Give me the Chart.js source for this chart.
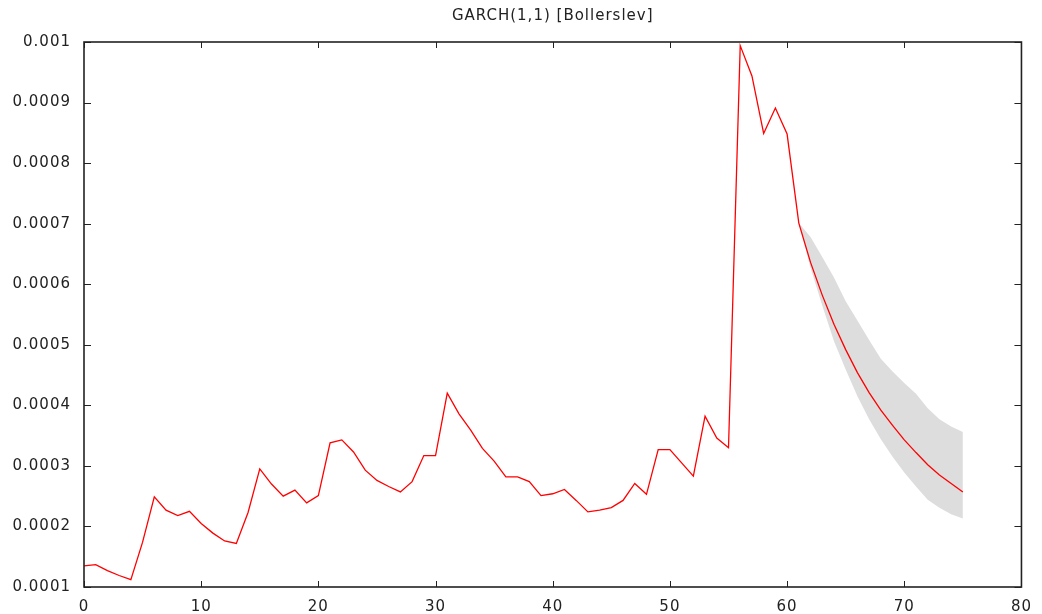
<!DOCTYPE html>
<html>
<head>
<meta charset="utf-8">
<script src="https://cdn.jsdelivr.net/npm/chart.js@4.4.0/dist/chart.umd.min.js"></script>
<style>
  html, body { margin: 0; padding: 0; background: #ffffff; }
  #wrap { width: 1042px; height: 614px; position: relative; }
</style>
</head>
<body>
<div id="wrap"><canvas id="c" width="1042" height="614"></canvas></div>
<script>
// ---- data ----
const chartTitle = 'GARCH(1,1) [Bollerslev]';
const xTicks = [0, 10, 20, 30, 40, 50, 60, 70, 80];
const yTicks = [0.0001, 0.0002, 0.0003, 0.0004, 0.0005, 0.0006, 0.0007, 0.0008, 0.0009, 0.001];
const yTickLabels = ['0.0001', '0.0002', '0.0003', '0.0004', '0.0005', '0.0006', '0.0007', '0.0008', '0.0009', '0.001'];

// conditional variance, t = 0..75 (61..75 is the forecast)
const variance = [
  0.000135, 0.000137, 0.000127, 0.000119, 0.000112, 0.000174, 0.000249, 0.000227, 0.000218, 0.000225,
  0.000205, 0.000189, 0.000176, 0.000172, 0.000223, 0.000295, 0.000270, 0.000250, 0.000260, 0.000239,
  0.000251, 0.000338, 0.000343, 0.000323, 0.000293, 0.000276, 0.000266, 0.000257, 0.000274, 0.000317,
  0.000317, 0.000420, 0.000386, 0.000359, 0.000329, 0.000308, 0.000282, 0.000282, 0.000274, 0.000251,
  0.000254, 0.000261, 0.000243, 0.000224, 0.000227, 0.000231, 0.000243, 0.000271, 0.000253, 0.000327,
  0.000327, 0.000305, 0.000283, 0.000382, 0.000346, 0.000330, 0.000994, 0.000944, 0.000849, 0.000891,
  0.000848, 0.000701, 0.000636, 0.000582, 0.000534, 0.000492, 0.000454, 0.000421, 0.000392, 0.000367,
  0.000343, 0.000322, 0.000302, 0.000285, 0.000271, 0.000257
];

// forecast interval
const bandSteps = [61, 62, 63, 64, 65, 66, 67, 68, 69, 70, 71, 72, 73, 74, 75];
const bandUpper = [0.000701, 0.000678, 0.000645, 0.000611, 0.000572, 0.000540, 0.000508, 0.000477,
                   0.000456, 0.000437, 0.000419, 0.000395, 0.000377, 0.000365, 0.000356];
const bandLower = [0.000701, 0.000627, 0.000565, 0.000506, 0.000459, 0.000415, 0.000377, 0.000344,
                   0.000315, 0.000289, 0.000266, 0.000244, 0.000231, 0.000220, 0.000213];

// ---- build ----
const linePts = variance.map((v, i) => ({ x: i, y: v }));
const upperPts = bandSteps.map((s, i) => ({ x: s, y: bandUpper[i] }));
const lowerPts = bandSteps.map((s, i) => ({ x: s, y: bandLower[i] }));

Chart.defaults.font.family = "'DejaVu Sans', Verdana, sans-serif";
Chart.defaults.font.size = 15;
Chart.defaults.color = '#222222';

const spacingPlugin = {
  id: 'spacing',
  beforeDraw(chart) { chart.ctx.letterSpacing = '1px'; }
};

const framePlugin = {
  id: 'frame',
  afterDraw(chart) {
    const ctx = chart.ctx;
    const a = chart.chartArea;
    const xs = chart.scales.x, ys = chart.scales.y;
    ctx.save();
    ctx.strokeStyle = '#222222';
    ctx.lineWidth = 1;
    ctx.beginPath();
    xTicks.forEach(t => {
      const px = Math.round(xs.getPixelForValue(t)) + 0.5;
      ctx.moveTo(px, a.bottom); ctx.lineTo(px, a.bottom - 6);
      ctx.moveTo(px, a.top); ctx.lineTo(px, a.top + 6);
    });
    yTicks.forEach(t => {
      const py = Math.round(ys.getPixelForValue(t)) + 0.5;
      ctx.moveTo(a.left, py); ctx.lineTo(a.left + 7, py);
      ctx.moveTo(a.right, py); ctx.lineTo(a.right - 7, py);
    });
    ctx.stroke();
    ctx.lineWidth = 1.6;
    ctx.strokeRect(a.left, a.top, a.right - a.left, a.bottom - a.top);
    ctx.restore();
  }
};

new Chart(document.getElementById('c'), {
  type: 'line',
  data: {
    datasets: [
      {
        label: 'variance',
        data: linePts,
        borderColor: '#ff0000',
        borderWidth: 1.3,
        pointRadius: 0,
        fill: false,
        tension: 0
      },
      {
        label: 'lower',
        data: lowerPts,
        borderWidth: 0,
        borderColor: 'rgba(0,0,0,0)',
        pointRadius: 0,
        fill: false,
        tension: 0
      },
      {
        label: 'upper',
        data: upperPts,
        borderWidth: 0,
        borderColor: 'rgba(0,0,0,0)',
        backgroundColor: '#dddddd',
        pointRadius: 0,
        fill: '-1',
        tension: 0
      }
    ]
  },
  options: {
    responsive: false,
    animation: false,
    events: [],
    layout: { padding: { left: 0, right: 17, top: 0, bottom: 0 } },
    plugins: {
      legend: { display: false },
      tooltip: { enabled: false },
      title: {
        display: true,
        fullSize: false,
        text: chartTitle,
        color: '#222222',
        font: { size: 15, weight: 'normal' },
        padding: { top: 7, bottom: 17 }
      }
    },
    scales: {
      x: {
        type: 'linear',
        min: 0, max: 80,
        afterBuildTicks(scale) { scale.ticks = xTicks.map(v => ({ value: v })); },
        afterFit(scale) { scale.height = 27; },
        grid: { display: false, drawTicks: false },
        border: { display: false },
        ticks: { padding: 11, maxRotation: 0, autoSkip: false, color: '#222222' }
      },
      y: {
        type: 'linear',
        min: 0.0001, max: 0.001,
        afterBuildTicks(scale) { scale.ticks = yTicks.map(v => ({ value: v })); },
        afterFit(scale) { scale.width = 84; },
        grid: { display: false, drawTicks: false },
        border: { display: false },
        ticks: {
          padding: 13,
          autoSkip: false,
          color: '#222222',
          callback(value) {
            const i = yTicks.findIndex(t => Math.abs(t - value) < 1e-9);
            return i >= 0 ? yTickLabels[i] : '';
          }
        }
      }
    }
  },
  plugins: [spacingPlugin, framePlugin]
});
</script>
</body>
</html>
